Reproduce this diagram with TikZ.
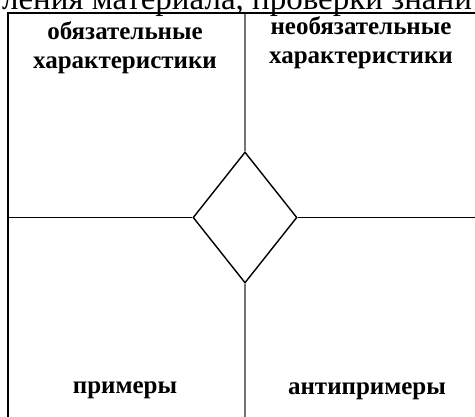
\documentclass[tikz,border=0pt]{standalone}
\usepackage{fontspec}
\setmainfont{Liberation Serif}
\usetikzlibrary{shapes.geometric}
\begin{document}
\begin{tikzpicture}[x=1pt,y=-1pt,
  lbl/.style={font=\fontsize{25}{29}\selectfont\bfseries, align=center, inner sep=0pt},
  frame/.style={line width=1.8pt, black},
  divider/.style={line width=1.2pt, black!55},
  hline/.style={line width=1pt, black},
  rhomb/.style={diamond, draw, line width=1.4pt, inner sep=0pt, minimum width=104pt, minimum height=131pt}]
\useasboundingbox (0,0) rectangle (475,417);
\begin{scope}
\clip (0,0) rectangle (475,417);
\node[font=\fontsize{33}{33}\selectfont, anchor=base, inner sep=0pt] (hdr) at (237,10) {ления материала, проверки знани};
\end{scope}
\node[rhomb] (d) at (245,217.5) {};
\coordinate (tl) at (8,13);
\coordinate (tr) at (475,13);
\coordinate (bl) at (8,417);
\coordinate (vt) at (245,13);
\coordinate (vb) at (245,417);
\coordinate (hl) at (8,217.5);
\coordinate (hr) at (475,217.5);
\draw[divider] (vt) -- (d.north);
\draw[divider] (d.south) -- (vb);
\draw[hline] (hl) -- (d.west);
\draw[hline] (d.east) -- (hr);
\draw[frame] (bl) -- (tl) -- (tr);
\node[lbl] (q1) at (125,48) {обязательные\\характеристики};
\node[lbl] (q2) at (361,43) {необязательные\\характеристики};
\node[lbl] (q3) at (125,390) {примеры};
\node[lbl] (q4) at (367,391) {антипримеры};
\end{tikzpicture}
\end{document}
